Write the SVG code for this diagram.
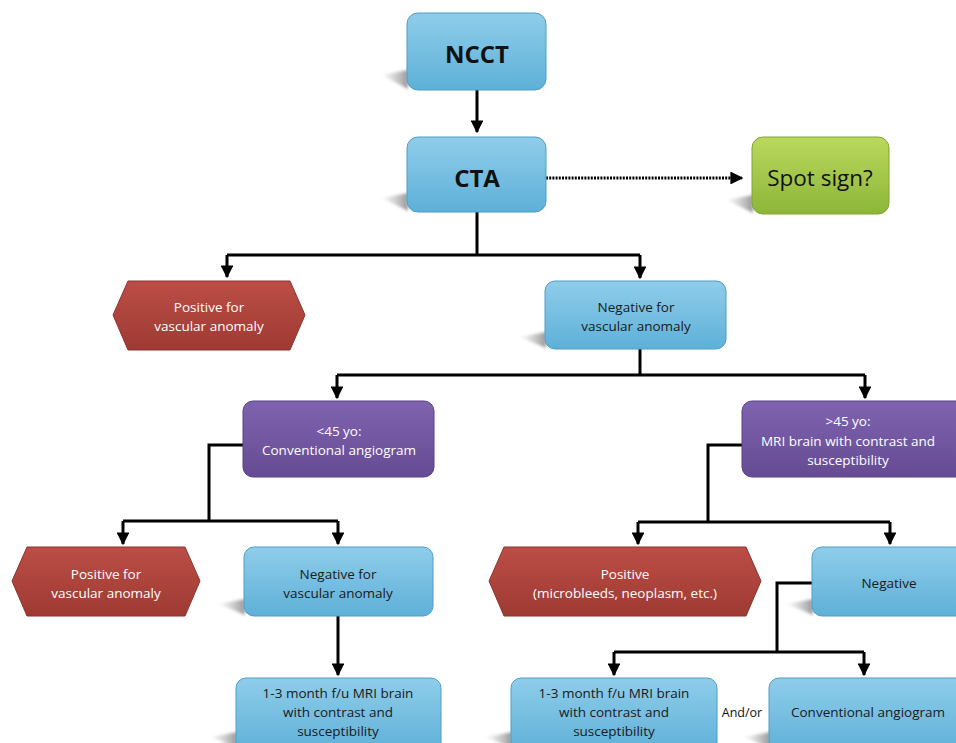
<svg xmlns="http://www.w3.org/2000/svg" width="956" height="743" viewBox="0 0 956 743">
<defs>
<linearGradient id="gBlue" x1="0" y1="0" x2="0" y2="1"><stop offset="0" stop-color="#8fcdea"/><stop offset="1" stop-color="#5eb0d8"/></linearGradient>
<linearGradient id="gRed" x1="0" y1="0" x2="0" y2="1"><stop offset="0" stop-color="#bb4e46"/><stop offset="1" stop-color="#9e3a33"/></linearGradient>
<linearGradient id="gPurple" x1="0" y1="0" x2="0" y2="1"><stop offset="0" stop-color="#8063b0"/><stop offset="1" stop-color="#654b93"/></linearGradient>
<linearGradient id="gGreen" x1="0" y1="0" x2="0" y2="1"><stop offset="0" stop-color="#bad85e"/><stop offset="1" stop-color="#8db638"/></linearGradient>
<linearGradient id="gShadow" x1="1" y1="0" x2="0" y2="0"><stop offset="0" stop-color="#8a8a8a" stop-opacity="0.9"/><stop offset="1" stop-color="#bbbbbb" stop-opacity="0.1"/></linearGradient>
<filter id="blur" x="-20%" y="-20%" width="140%" height="140%"><feGaussianBlur stdDeviation="1.5"/></filter>
<marker id="ah" viewBox="0 0 10 10" refX="9" refY="5" markerWidth="4.3" markerHeight="4.3" orient="auto" markerUnits="strokeWidth"><path d="M0,0 L10,5 L0,10 z" fill="#000"/></marker>
</defs>
<style>
.blue{fill:url(#gBlue);stroke:#4f9dc4;stroke-width:1}
.red{fill:url(#gRed);stroke:#8e332d;stroke-width:1}
.purple{fill:url(#gPurple);stroke:#5a4285;stroke-width:1}
.green{fill:url(#gGreen);stroke:#7fa532;stroke-width:1}
.sh{fill:url(#gShadow);filter:url(#blur)}
.t{font-family:"Open Sans","Liberation Sans",sans-serif;font-size:13.5px;text-anchor:middle}
.dk{fill:#1a1a1a}
.wh{fill:#ffffff}
.big{font-family:"Open Sans","Liberation Sans",sans-serif;font-weight:bold;font-size:24px;text-anchor:middle;fill:#111}
.conn{fill:none;stroke:#000;stroke-width:3}
</style>
<rect width="956" height="743" fill="#fff"/>

<g id="connectors">
<path class="conn" d="M477,90 V132" marker-end="url(#ah)"/>
<path d="M546,178 H742" fill="none" stroke="#000" stroke-width="3" stroke-dasharray="2,1.2" marker-end="url(#ah)"/>
<path class="conn" d="M477,212 V255"/>
<path class="conn" d="M227,255 H640"/>
<path class="conn" d="M227,255 V277" marker-end="url(#ah)"/>
<path class="conn" d="M640,255 V278" marker-end="url(#ah)"/>
<path class="conn" d="M640,349 V375"/>
<path class="conn" d="M337,375 H865"/>
<path class="conn" d="M337,375 V398" marker-end="url(#ah)"/>
<path class="conn" d="M865,375 V398" marker-end="url(#ah)"/>
<path class="conn" d="M243,445 H209 V521"/>
<path class="conn" d="M123,521 H338"/>
<path class="conn" d="M123,521 V544" marker-end="url(#ah)"/>
<path class="conn" d="M338,521 V544" marker-end="url(#ah)"/>
<path class="conn" d="M338,616 V675" marker-end="url(#ah)"/>
<path class="conn" d="M742,445 H708 V522"/>
<path class="conn" d="M638,522 H890"/>
<path class="conn" d="M638,522 V544" marker-end="url(#ah)"/>
<path class="conn" d="M890,522 V544" marker-end="url(#ah)"/>
<path class="conn" d="M812,583 H777 V652"/>
<path class="conn" d="M614,652 H864"/>
<path class="conn" d="M614,652 V675" marker-end="url(#ah)"/>
<path class="conn" d="M864,652 V675" marker-end="url(#ah)"/>
</g>

<g id="ncct">
<polygon class="sh" points="408,70 382,75 408,89"/>
<rect class="blue" x="407" y="13" width="139" height="77" rx="11"/>
<text class="big" x="477" y="63">NCCT</text>
</g>
<g id="cta">
<polygon class="sh" points="408,193 382,198 408,211"/>
<rect class="blue" x="407" y="137" width="139" height="75" rx="11"/>
<text class="big" x="477" y="187">CTA</text>
</g>
<g id="spot">
<polygon class="sh" points="753,195 727,200 753,213"/>
<rect class="green" x="752" y="137" width="137" height="77" rx="11"/>
<text x="820" y="186" font-family="'Open Sans','Liberation Sans',sans-serif" font-size="22.5" text-anchor="middle" fill="#111">Spot sign?</text>
</g>
<g id="pos1">
<polygon class="red" points="128,281 290,281 305,315 290,350 128,350 113,315"/>
<text class="t wh" x="209" y="312">Positive for</text>
<text class="t wh" x="209" y="331">vascular anomaly</text>
</g>
<g id="neg1">
<polygon class="sh" points="546,332 520,337 546,348"/>
<rect class="blue" x="545" y="281" width="181" height="68" rx="10"/>
<text class="t dk" x="636" y="312">Negative for</text>
<text class="t dk" x="636" y="331">vascular anomaly</text>
</g>
<g id="lt45">
<rect class="purple" x="243" y="401" width="191" height="76" rx="10"/>
<text class="t wh" x="339" y="436">&lt;45 yo:</text>
<text class="t wh" x="339" y="455">Conventional angiogram</text>
</g>
<g id="gt45">
<rect class="purple" x="742" y="401" width="224" height="76" rx="10"/>
<text class="t wh" x="848" y="426">&gt;45 yo:</text>
<text class="t wh" x="848" y="446">MRI brain with contrast and</text>
<text class="t wh" x="848" y="465">susceptibility</text>
</g>
<g id="pos2">
<polygon class="red" points="27,547 185,547 200,581 185,616 27,616 12,581"/>
<text class="t wh" x="106" y="579">Positive for</text>
<text class="t wh" x="106" y="598">vascular anomaly</text>
</g>
<g id="neg2">
<polygon class="sh" points="245,599 219,604 245,615"/>
<rect class="blue" x="244" y="547" width="189" height="69" rx="10"/>
<text class="t dk" x="338" y="579">Negative for</text>
<text class="t dk" x="338" y="598">vascular anomaly</text>
</g>
<g id="fu1">
<polygon class="sh" points="237,732 211,737 237,748"/>
<rect class="blue" x="236" y="678" width="205" height="75" rx="10"/>
<text class="t dk" x="338" y="698">1-3 month f/u MRI brain</text>
<text class="t dk" x="338" y="717">with contrast and</text>
<text class="t dk" x="338" y="736">susceptibility</text>
</g>
<g id="pos3">
<polygon class="red" points="504,547 746,547 761,581 746,616 504,616 489,581"/>
<text class="t wh" x="625" y="579">Positive</text>
<text class="t wh" x="625" y="598">(microbleeds, neoplasm, etc.)</text>
</g>
<g id="neg3">
<polygon class="sh" points="813,599 787,604 813,615"/>
<rect class="blue" x="812" y="547" width="156" height="69" rx="10"/>
<text class="t dk" x="889" y="588">Negative</text>
</g>
<g id="fu2">
<polygon class="sh" points="512,732 486,737 512,748"/>
<rect class="blue" x="511" y="678" width="206" height="75" rx="10"/>
<text class="t dk" x="614" y="698">1-3 month f/u MRI brain</text>
<text class="t dk" x="614" y="717">with contrast and</text>
<text class="t dk" x="614" y="736">susceptibility</text>
</g>
<g id="angio">
<polygon class="sh" points="770,732 744,737 770,748"/>
<rect class="blue" x="769" y="678" width="197" height="75" rx="10"/>
<text class="t dk" x="868" y="717">Conventional angiogram</text>
</g>
<g id="andor">
<text x="742" y="717" font-family="'Open Sans','Liberation Sans',sans-serif" font-size="12.5" text-anchor="middle" fill="#111">And/or</text>
</g>
</svg>
